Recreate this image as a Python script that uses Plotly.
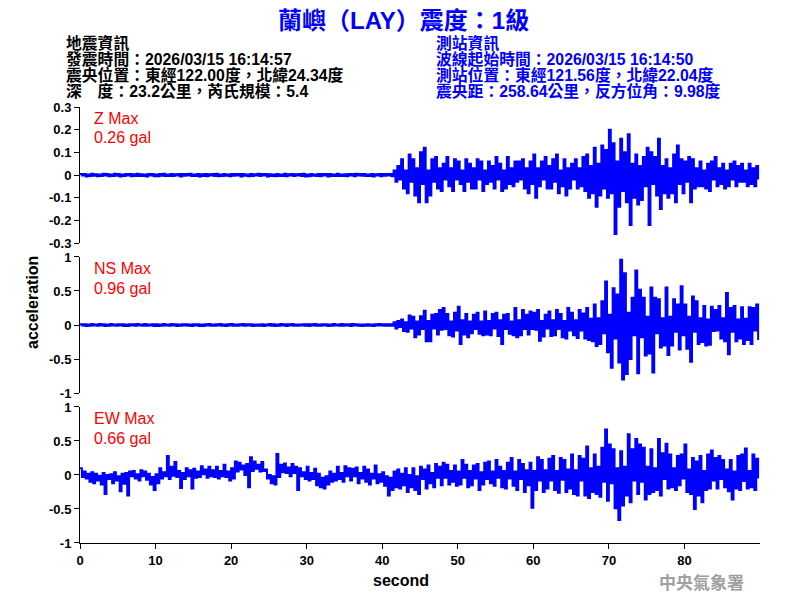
import numpy as np
import plotly.graph_objects as go

# ---------------- data ----------------
SAMPLE_STEP = 0.25  # seconds between listed samples

z_values = [
    0.005,-0.002,0.004,-0.006,0.002,-0.004,0.006,-0.003,
    0.003,-0.005,0.002,-0.004,0.006,-0.002,0.004,-0.005,
    0.002,-0.004,0.006,-0.003,0.004,-0.006,0.002,-0.004,
    0.005,-0.002,0.004,-0.005,0.003,-0.004,0.006,-0.004,
    0.003,-0.004,0.002,-0.006,0.005,-0.002,0.004,-0.005,
    0.002,-0.005,0.004,-0.003,0.006,-0.004,0.002,-0.004,
    0.005,-0.004,0.003,-0.002,0.004,-0.006,0.004,-0.003,
    0.004,-0.002,0.006,-0.004,0.002,-0.004,0.005,-0.006,
    0.003,-0.004,0.004,-0.005,0.003,-0.002,0.004,-0.004,
    0.006,-0.005,0.002,-0.004,0.005,-0.003,0.002,-0.005,
    0.004,-0.003,0.005,-0.002,0.004,-0.006,0.004,-0.003,
    0.002,-0.005,0.004,-0.004,0.003,-0.002,0.006,-0.004,
    0.005,-0.002,0.004,-0.006,0.003,-0.004,0.002,-0.005,
    0.004,-0.004,0.002,-0.004,0.006,-0.005,0.003,-0.002,
    0.005,-0.004,0.003,-0.002,0.004,-0.004,0.006,-0.006,
    0.002,-0.005,0.005,-0.003,0.002,-0.004,0.004,-0.005,
    0.004,-0.002,0.004,-0.006,0.005,-0.004,0.002,-0.004,
    0.006,-0.004,0.002,-0.004,0.003,-0.005,0.004,-0.002,
    0.004,-0.005,0.006,-0.002,0.004,-0.003,0.005,-0.004,
    0.002,-0.004,0.004,-0.006,0.003,-0.002,0.004,-0.005,
    0.004,-0.003,0.005,-0.002,0.004,-0.005,0.02,-0.03,
    0.04,-0.02,0.07,-0.06,0.02,-0.08,0.09,-0.03,
    0.07,-0.09,0.03,-0.12,0.10,-0.04,0.12,-0.12,
    0.02,-0.09,0.07,-0.03,0.08,-0.06,0.03,-0.07,
    0.05,-0.02,0.08,-0.05,0.03,-0.07,0.07,-0.02,
    0.06,-0.04,0.02,-0.07,0.07,-0.03,0.05,-0.06,
    0.03,-0.06,0.07,-0.02,0.06,-0.07,0.02,-0.04,
    0.06,-0.03,0.04,-0.06,0.08,-0.02,0.05,-0.07,
    0.02,-0.06,0.08,-0.04,0.03,-0.05,0.06,-0.03,
    0.06,-0.02,0.07,-0.06,0.03,-0.08,0.06,-0.04,
    0.09,-0.10,0.03,-0.05,0.06,-0.02,0.08,-0.06,
    0.04,-0.06,0.07,-0.03,0.09,-0.08,0.02,-0.05,
    0.07,-0.09,0.03,-0.06,0.05,-0.02,0.07,-0.06,
    0.03,-0.05,0.08,-0.07,0.09,-0.10,0.04,-0.08,
    0.12,-0.14,0.05,-0.09,0.13,-0.06,0.11,-0.10,
    0.20,-0.08,0.14,-0.26,0.06,-0.14,0.16,-0.07,
    0.10,-0.12,0.18,-0.22,0.05,-0.10,0.09,-0.13,
    0.04,-0.11,0.08,-0.05,0.12,-0.22,0.10,-0.04,
    0.08,-0.09,0.16,-0.15,0.04,-0.08,0.07,-0.10,
    0.03,-0.08,0.09,-0.12,0.13,-0.04,0.07,-0.08,
    0.06,-0.03,0.08,-0.12,0.07,-0.06,0.03,-0.05,
    0.06,-0.05,0.02,-0.06,0.05,-0.07,0.06,-0.02,
    0.08,-0.05,0.03,-0.04,0.05,-0.06,0.02,-0.05,
    0.05,-0.02,0.06,-0.05,0.04,-0.03,0.05,-0.03,
    0.02,-0.05,0.05,-0.04,0.03,-0.05,0.04,-0.02,
]

ns_values = [
    0.012,-0.008,0.011,-0.014,0.007,-0.012,0.014,-0.009,
    0.008,-0.012,0.014,-0.007,0.011,-0.014,0.009,-0.010,
    0.014,-0.009,0.007,-0.012,0.012,-0.008,0.011,-0.014,
    0.009,-0.014,0.012,-0.008,0.010,-0.012,0.014,-0.009,
    0.007,-0.011,0.014,-0.012,0.009,-0.008,0.012,-0.014,
    0.012,-0.014,0.008,-0.011,0.014,-0.009,0.007,-0.011,
    0.014,-0.008,0.012,-0.014,0.009,-0.011,0.012,-0.007,
    0.011,-0.012,0.007,-0.014,0.012,-0.009,0.011,-0.014,
    0.008,-0.014,0.011,-0.007,0.014,-0.011,0.009,-0.012,
    0.012,-0.009,0.014,-0.012,0.007,-0.014,0.011,-0.008,
    0.014,-0.012,0.008,-0.011,0.012,-0.007,0.014,-0.012,
    0.011,-0.008,0.012,-0.014,0.009,-0.012,0.007,-0.011,
    0.012,-0.014,0.009,-0.008,0.014,-0.011,0.012,-0.014,
    0.008,-0.012,0.014,-0.009,0.012,-0.014,0.011,-0.007,
    0.014,-0.011,0.007,-0.012,0.009,-0.008,0.012,-0.012,
    0.011,-0.014,0.012,-0.007,0.014,-0.012,0.008,-0.011,
    0.012,-0.008,0.011,-0.014,0.007,-0.012,0.014,-0.009,
    0.008,-0.012,0.014,-0.011,0.012,-0.007,0.011,-0.014,
    0.014,-0.009,0.012,-0.012,0.009,-0.014,0.008,-0.012,
    0.011,-0.012,0.007,-0.014,0.012,-0.009,0.014,-0.008,
    0.012,-0.010,0.010,-0.012,0.010,-0.011,0.04,-0.05,
    0.06,-0.03,0.08,-0.09,0.04,-0.10,0.14,-0.05,
    0.12,-0.18,0.05,-0.14,0.13,-0.06,0.21,-0.24,
    0.06,-0.24,0.15,-0.05,0.16,-0.14,0.22,-0.07,
    0.25,-0.06,0.16,-0.15,0.05,-0.17,0.18,-0.08,
    0.27,-0.28,0.07,-0.14,0.16,-0.18,0.05,-0.12,
    0.15,-0.06,0.18,-0.13,0.05,-0.15,0.20,-0.14,
    0.06,-0.15,0.16,-0.05,0.18,-0.16,0.07,-0.28,
    0.15,-0.06,0.16,-0.13,0.05,-0.15,0.25,-0.18,
    0.07,-0.15,0.22,-0.06,0.15,-0.14,0.20,-0.06,
    0.18,-0.07,0.22,-0.23,0.06,-0.17,0.15,-0.05,
    0.20,-0.16,0.07,-0.15,0.22,-0.06,0.16,-0.18,
    0.06,-0.20,0.25,-0.08,0.18,-0.15,0.07,-0.19,
    0.22,-0.08,0.17,-0.20,0.25,-0.22,0.09,-0.24,
    0.30,-0.31,0.10,-0.28,0.35,-0.12,0.64,-0.40,
    0.15,-0.63,0.54,-0.20,0.45,-0.55,0.96,-0.80,
    0.76,-0.72,0.18,-0.50,0.40,-0.15,0.80,-0.71,
    0.52,-0.18,0.40,-0.45,0.12,-0.42,0.55,-0.70,
    0.40,-0.12,0.38,-0.33,0.10,-0.30,0.55,-0.44,
    0.12,-0.30,0.38,-0.10,0.30,-0.36,0.57,-0.15,
    0.30,-0.35,0.12,-0.54,0.42,-0.10,0.35,-0.28,
    0.10,-0.25,0.28,-0.30,0.08,-0.29,0.27,-0.09,
    0.22,-0.08,0.28,-0.20,0.10,-0.24,0.47,-0.43,
    0.25,-0.10,0.28,-0.24,0.08,-0.20,0.26,-0.28,
    0.09,-0.22,0.26,-0.28,0.25,-0.08,0.30,-0.22,
]

ew_values = [
    0.10,-0.03,0.05,-0.05,0.02,-0.10,0.04,-0.12,
    0.02,-0.08,-0.01,-0.14,0.03,-0.28,0.00,-0.06,
    0.01,-0.12,0.04,-0.08,-0.02,-0.24,0.02,-0.13,
    0.03,-0.30,0.05,-0.02,0.06,-0.05,0.01,-0.08,
    0.07,-0.02,0.05,-0.07,0.02,-0.14,-0.03,-0.22,
    0.01,-0.12,0.10,-0.05,0.04,-0.02,0.28,-0.06,
    0.12,-0.01,0.19,-0.03,0.06,-0.19,0.03,-0.06,
    0.10,-0.02,0.07,-0.20,0.09,-0.04,0.05,-0.03,
    0.13,0.01,0.08,-0.04,0.12,-0.02,0.07,-0.03,
    0.12,-0.05,0.06,-0.02,0.15,-0.03,0.05,-0.08,
    0.10,-0.05,0.20,0.05,0.18,0.08,0.14,0.00,
    0.16,-0.18,0.26,0.06,0.20,0.09,0.15,0.05,
    0.19,0.06,0.08,-0.05,0.00,-0.12,-0.02,-0.14,
    0.31,-0.03,0.15,0.04,0.17,0.03,0.11,-0.02,
    0.16,0.03,0.12,-0.22,0.10,-0.02,0.04,-0.06,
    0.12,-0.08,0.03,-0.06,0.09,-0.15,0.02,-0.18,
    -0.04,-0.20,-0.02,-0.14,0.05,-0.10,0.02,-0.08,
    0.12,-0.06,0.03,-0.10,0.13,-0.02,0.10,-0.08,
    0.09,-0.02,0.11,-0.12,0.03,-0.05,0.12,-0.10,
    0.08,-0.14,0.02,-0.05,0.14,-0.12,0.01,-0.10,
    0.04,-0.16,-0.02,-0.30,-0.04,-0.22,0.05,-0.18,
    0.08,-0.20,0.02,-0.15,0.10,-0.25,0.00,-0.18,
    0.10,-0.22,-0.02,-0.28,0.12,-0.06,0.08,-0.20,
    0.14,-0.12,0.03,-0.18,0.16,-0.04,0.12,-0.15,
    0.18,-0.04,0.15,-0.14,0.06,-0.10,0.14,-0.16,
    0.05,-0.14,0.22,-0.04,0.15,-0.18,0.06,-0.15,
    0.14,-0.05,0.16,-0.22,0.04,-0.14,0.18,-0.06,
    0.20,-0.12,0.05,-0.16,0.22,-0.04,0.12,-0.18,
    0.06,-0.20,0.18,-0.05,0.25,-0.16,0.05,-0.22,
    0.22,-0.06,0.16,-0.25,0.07,-0.15,0.18,-0.48,
    0.06,-0.22,0.26,-0.08,0.22,-0.25,0.07,-0.20,
    0.24,-0.08,0.28,-0.22,0.06,-0.26,0.25,-0.07,
    0.22,-0.25,0.08,-0.20,0.30,-0.28,0.07,-0.30,
    0.28,-0.08,0.24,-0.30,0.42,-0.34,0.10,-0.25,
    0.30,-0.28,0.12,-0.32,0.40,-0.10,0.67,-0.38,
    0.45,-0.12,0.38,-0.49,0.10,-0.66,0.35,-0.45,
    0.12,-0.30,0.60,-0.40,0.38,-0.08,0.53,-0.28,
    0.45,-0.10,0.40,-0.36,0.12,-0.28,0.38,-0.25,
    0.10,-0.22,0.53,-0.30,0.32,-0.06,0.46,-0.20,
    0.30,-0.18,0.10,-0.22,0.28,-0.15,0.30,-0.05,
    0.45,-0.25,0.08,-0.28,0.25,-0.50,0.20,-0.30,
    0.28,-0.40,0.06,-0.22,0.30,-0.20,0.36,-0.08,
    0.25,-0.20,0.28,-0.06,0.22,-0.18,0.08,-0.24,
    0.22,-0.36,0.05,-0.20,0.28,-0.22,0.30,-0.09,
    0.39,-0.20,0.06,-0.18,0.30,-0.22,0.24,-0.05,
]

component_labels = ["Z Max", "NS Max", "EW Max"]
max_labels = ["0.26 gal", "0.96 gal", "0.66 gal"]

z_ticks = [-0.3, -0.2, -0.1, 0, 0.1, 0.2, 0.3]
z_ticktext = ["-0.3", "-0.2", "-0.1", "0", "0.1", "0.2", "0.3"]
h_ticks = [-1, -0.5, 0, 0.5, 1]
h_ticktext = ["-1", "-0.5", "0", "0.5", "1"]
x_ticks = [0, 10, 20, 30, 40, 50, 60, 70, 80]

title_text = "蘭嶼（LAY）震度：1級"
left_header = ["地震資訊", "發震時間：2026/03/15 16:14:57",
               "震央位置：東經122.00度，北緯24.34度", "深　度：23.2公里，芮氏規模：5.4"]
right_header = ["測站資訊", "波線起始時間：2026/03/15 16:14:50",
                "測站位置：東經121.56度，北緯22.04度", "震央距：258.64公里，反方位角：9.98度"]

# ---------------- figure ----------------
FONT = "Liberation Sans, Arial, Noto Sans CJK TC, sans-serif"
BLUE = "#0000FF"

fig = go.Figure()
series = [z_values, ns_values, ew_values]
axes = [("x", "y"), ("x2", "y2"), ("x3", "y3")]
for vals, (xa, ya) in zip(series, axes):
    t = np.arange(len(vals)) * SAMPLE_STEP
    fig.add_trace(go.Scatter(x=t, y=vals, mode="lines", xaxis=xa, yaxis=ya,
                             line=dict(color=BLUE, width=2, shape="hv"),
                             showlegend=False, hoverinfo="skip"))

tickfont = dict(family=FONT, size=13, color="black", weight="bold")
common_y = dict(showline=True, linecolor="black", linewidth=1, ticks="outside",
                ticklen=5, tickwidth=1, tickcolor="black", showgrid=False,
                zeroline=False, tickfont=tickfont)
common_x = dict(range=[0, 90], showgrid=False, zeroline=False)

# the page body adds an 8 px offset, so margins are shifted to compensate
fig.update_layout(
    width=800, height=600,
    paper_bgcolor="white", plot_bgcolor="white",
    margin=dict(l=72, r=48, t=99, b=65),
    xaxis=dict(**common_x, anchor="y", showline=False, showticklabels=False, ticks=""),
    xaxis2=dict(**common_x, anchor="y2", showline=False, showticklabels=False, ticks="",
                matches="x"),
    xaxis3=dict(**common_x, anchor="y3", showline=True, linecolor="black", linewidth=1,
                ticks="outside", ticklen=5, tickcolor="black", tickvals=x_ticks,
                tickfont=tickfont, matches="x"),
    yaxis=dict(**common_y, domain=[0.688, 1.0], range=[-0.3, 0.3],
               tickvals=z_ticks, ticktext=z_ticktext),
    yaxis2=dict(**common_y, domain=[0.344, 0.656], range=[-1, 1],
                tickvals=h_ticks, ticktext=h_ticktext),
    yaxis3=dict(**common_y, domain=[0.0, 0.312], range=[-1, 1],
                tickvals=h_ticks, ticktext=h_ticktext),
)


def px(xp):
    return (xp - 80) / 680


def py(yp):
    return (543 - yp) / 436


ann = []
ann.append(dict(text=title_text, xref="paper", yref="paper", x=px(403), y=py(21),
                xanchor="center", yanchor="middle", showarrow=False,
                font=dict(family=FONT, size=24, color=BLUE, weight="bold")))

line_y = [43, 59, 75, 91]
for txt, yy in zip(left_header, line_y):
    ann.append(dict(text=txt, xref="paper", yref="paper", x=px(64), y=py(yy),
                    xanchor="left", yanchor="middle", showarrow=False,
                    font=dict(family=FONT, size=15.8, color="black", weight="bold")))
for txt, yy in zip(right_header, line_y):
    ann.append(dict(text=txt, xref="paper", yref="paper", x=px(434), y=py(yy),
                    xanchor="left", yanchor="middle", showarrow=False,
                    font=dict(family=FONT, size=15.8, color=BLUE, weight="bold")))

panel_tops = [107, 257, 407]
for comp, mx, top in zip(component_labels, max_labels, panel_tops):
    ann.append(dict(text=comp, xref="paper", yref="paper", x=px(92), y=py(top + 11),
                    xanchor="left", yanchor="middle", showarrow=False,
                    font=dict(family=FONT, size=16, color="red")))
    ann.append(dict(text=mx, xref="paper", yref="paper", x=px(92), y=py(top + 31),
                    xanchor="left", yanchor="middle", showarrow=False,
                    font=dict(family=FONT, size=16, color="red")))

ann.append(dict(text="acceleration", xref="paper", yref="paper", x=px(32), y=py(303),
                xanchor="center", yanchor="middle", textangle=-90, showarrow=False,
                font=dict(family=FONT, size=16, color="black", weight="bold")))
ann.append(dict(text="second", xref="paper", yref="paper", x=px(401), y=py(580),
                xanchor="center", yanchor="middle", showarrow=False,
                font=dict(family=FONT, size=16, color="black", weight="bold")))
ann.append(dict(text="中央氣象署", xref="paper", yref="paper", x=px(701), y=py(581),
                xanchor="center", yanchor="middle", showarrow=False,
                font=dict(family="Noto Sans CJK TC, sans-serif", size=17, color="#a0a0a0",
                          weight="bold")))

fig.update_layout(annotations=ann)
fig.write_html("out.html")
